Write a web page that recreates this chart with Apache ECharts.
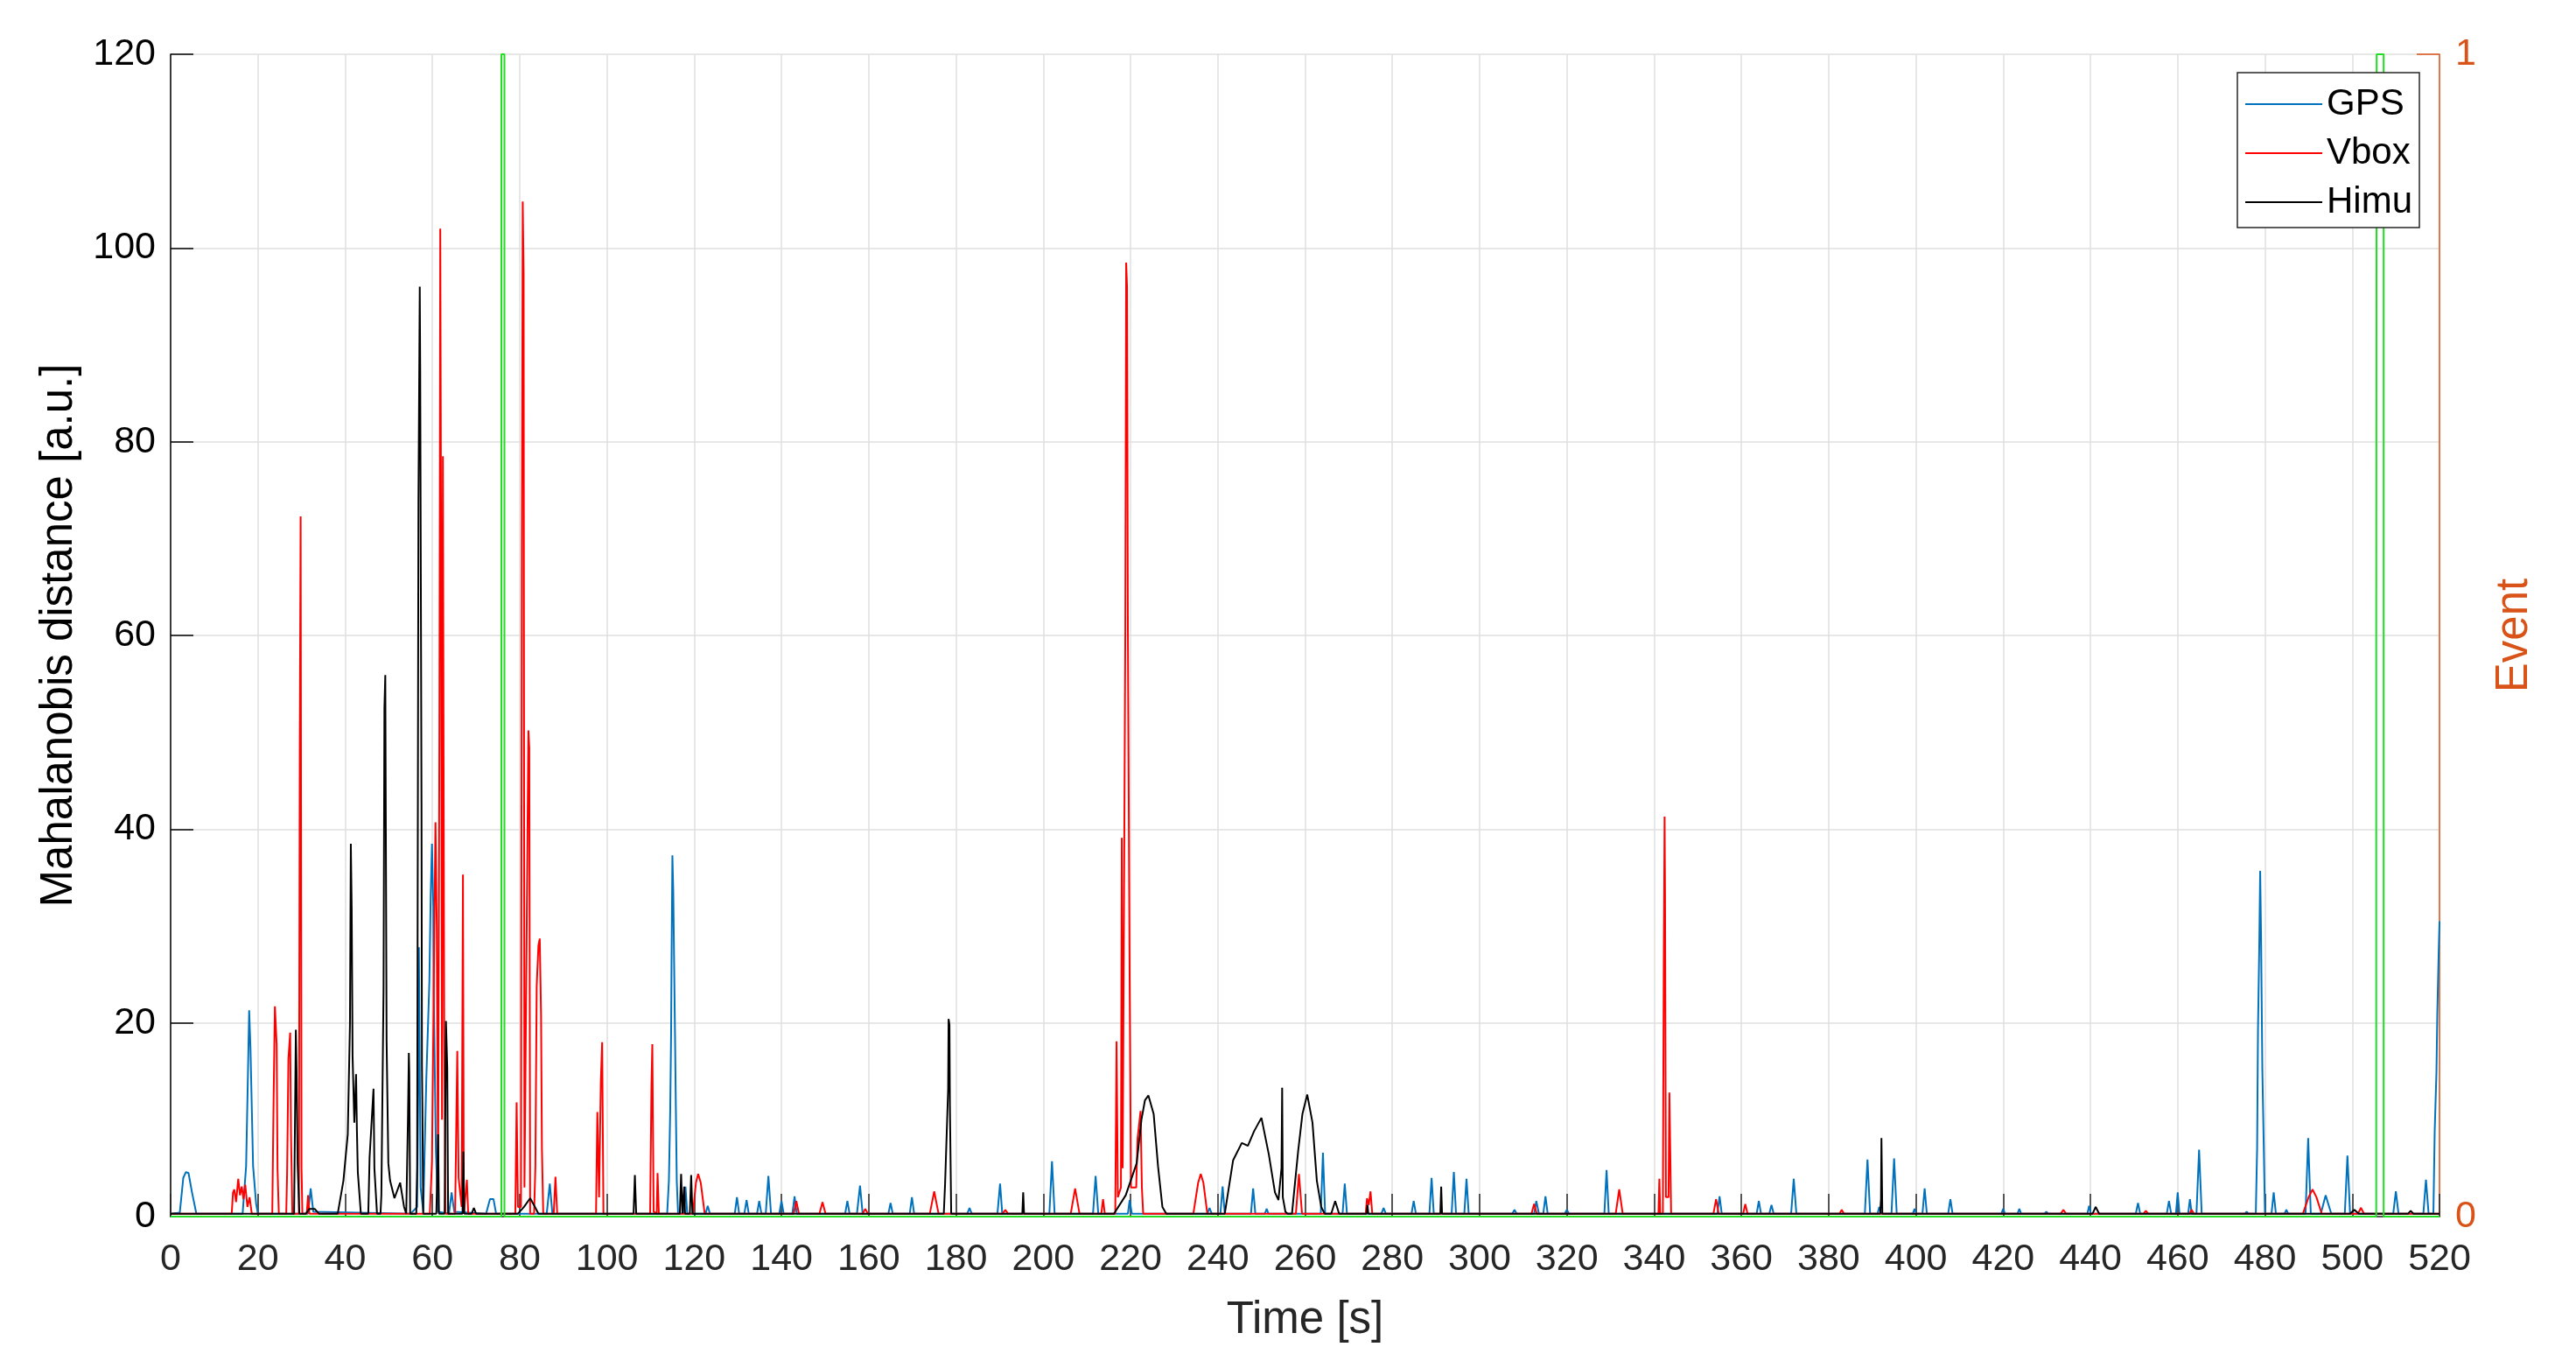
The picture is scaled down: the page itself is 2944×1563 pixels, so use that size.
<!DOCTYPE html>
<html>
<head>
<meta charset="utf-8">
<script src="https://cdn.jsdelivr.net/npm/echarts/dist/echarts.min.js"></script>
<style>
  html, body { margin: 0; padding: 0; background: #fff; }
  #chart { width: 2944px; height: 1563px; }
</style>
</head>
<body>
<div id="chart"></div>
<script>
// [time s, Mahalanobis distance]
const gpsPoints = [
  [0,0.3],[2.1,0.4],[2.9,4],[3.5,4.6],[4.1,4.5],[4.9,2.5],[5.9,0.3],
  [16.5,0.3],[17.3,5.2],[17.7,14.2],[18,21.3],[18.3,17.4],[18.9,5.2],[19.6,1.3],[20,0.3],
  [31.5,0.3],[32.1,2.9],[32.7,0.5],
  [55,0.3],[56.5,1],[56.8,15.7],[56.9,27.8],[57.3,3],[57.9,0.5],[58.6,14.2],[59.3,24.2],[59.6,33],[59.9,38.5],[60.2,32],[60.3,23.2],[60.8,6.7],[61.3,0.5],
  [63.8,0.3],[64.4,2.5],[65,0.5],
  [72.3,0.3],[73.2,1.8],[74,1.8],[74.6,0.3],
  [86.2,0.3],[86.9,3.4],[87.5,0.3],
  [113.8,0.3],[114.2,3.7],[114.5,11],[114.7,18.7],[114.8,26],[115,37.3],[115.2,33.6],[115.4,26],[115.6,18.7],[115.8,11],[116,3.7],[116.3,0.3],
  [117.6,0.3],[118,3.1],[118.4,0.3],
  [122.6,0.3],[123.1,1.1],[123.6,0.3],
  [129.3,0.3],[129.8,2],[130.3,0.3],[131.5,0.3],[132,1.7],[132.5,0.3],[134.4,0.3],[134.9,1.6],[135.4,0.3],
  [136.4,0.3],[137,4.2],[137.6,0.3],[139.5,0.3],[140,1.6],[140.5,0.3],[142.5,0.3],[143,2.1],[143.5,0.3],
  [154.6,0.3],[155.1,1.6],[155.6,0.3],[157.3,0.3],[158,3.2],[158.6,0.3],
  [164.5,0.3],[165,1.4],[165.5,0.3],[169.4,0.3],[169.9,2],[170.4,0.3],
  [182.6,0.3],[183.1,0.9],[183.6,0.3],
  [189.5,0.3],[190.1,3.4],[190.6,0.3],
  [201.4,0.3],[202,5.7],[202.6,0.3],
  [211.4,0.3],[212,4.2],[212.6,0.3],
  [219.4,0.3],[219.8,1.7],[220.3,0.3],
  [237.6,0.3],[238.1,0.9],[238.6,0.3],
  [240.6,0.3],[241.1,3.1],[241.6,0.3],
  [247.6,0.3],[248.1,2.9],[248.6,0.3],
  [250.8,0.3],[251.2,0.8],[251.6,0.3],
  [263.6,0.3],[264.1,6.6],[264.6,0.3],
  [268.6,0.3],[269.1,3.4],[269.6,0.3],
  [277.5,0.3],[278,0.9],[278.5,0.3],
  [284.4,0.3],[284.9,1.6],[285.4,0.3],
  [288.5,0.3],[289,4],[289.5,0.3],
  [293.6,0.3],[294.1,4.6],[294.6,0.3],
  [296.5,0.3],[297,3.9],[297.5,0.3],
  [307.5,0.3],[308,0.7],[308.5,0.3],
  [312.5,0.3],[313,1.6],[313.6,0.3],[314.6,0.3],[315.1,2.1],[315.6,0.3],
  [319.5,0.3],[320,0.7],[320.5,0.3],
  [328.6,0.3],[329.1,4.8],[329.6,0.3],
  [354.5,0.3],[355,2.1],[355.5,0.3],
  [363.5,0.3],[364,1.6],[364.5,0.3],
  [366.4,0.3],[366.9,1.2],[367.4,0.3],
  [371.4,0.3],[372,3.9],[372.6,0.3],
  [388.3,0.3],[388.9,5.9],[389.5,0.3],
  [391.2,0.3],[391.6,1],[392,0.3],
  [394.4,0.3],[395,6],[395.6,0.3],
  [399.3,0.3],[399.7,0.8],[400.1,0.3],
  [401.5,0.3],[402,2.9],[402.5,0.3],
  [407.4,0.3],[407.9,1.8],[408.4,0.3],
  [419.6,0.3],[420,0.8],[420.4,0.3],
  [423.3,0.3],[423.7,0.8],[424.1,0.3],
  [429.5,0.3],[429.9,0.5],[430.3,0.3],
  [439.3,0.3],[439.7,1.1],[440.1,0.3],
  [450.4,0.3],[450.9,1.4],[451.4,0.3],
  [457.5,0.3],[458,1.6],[458.5,0.3],
  [459.6,0.3],[460,2.5],[460.4,0.3],
  [462.4,0.3],[462.8,1.8],[463.2,0.3],
  [464.3,0.3],[464.9,6.9],[465.5,0.3],
  [475.4,0.3],[475.8,0.5],[476.2,0.3],
  [477.9,0.3],[478.2,7],[478.4,19.3],[478.7,28.2],[478.9,35.7],[479.1,29.1],[479.4,15.1],[479.7,7.9],[480,0.3],
  [481.5,0.3],[482,2.5],[482.5,0.3],
  [484.5,0.3],[484.9,0.7],[485.3,0.3],
  [489.3,0.3],[489.9,8.1],[490.5,0.3],
  [492.8,0.3],[493.9,2.2],[495.2,0.3],
  [498.3,0.3],[498.9,6.3],[499.5,0.3],
  [509.4,0.3],[510,2.6],[510.6,0.3],
  [516.3,0.3],[516.9,3.8],[517.5,0.3],
  [518.6,0.3],[518.9,8.8],[519.3,14.9],[519.5,21],[519.8,27],[520,30.5]
];

const vboxPoints = [
  [0,0.3],[14,0.3],[14.3,2.5],[14.6,2.8],[15,1.5],[15.5,3.9],[15.9,2.2],[16.3,3.1],[16.7,1.8],[17.1,3.3],[17.6,1],[18.1,2],[18.6,0.3],
  [23.3,0.3],[23.6,12.1],[23.9,21.7],[24.3,17.8],[24.5,4.9],[24.8,0.3],
  [26.5,0.3],[26.7,4.6],[27,16.3],[27.4,19],[27.6,8.2],[27.9,0.3],
  [29.4,0.3],[29.6,49],[29.8,72.3],[30,5],[30.2,0.3],
  [31.2,0.3],[31.5,2.2],[31.8,0.3],
  [59.4,0.3],[59.9,5.7],[60.7,40.7],[61,30],[61.3,3],[61.6,50],[61.8,102],[62,68],[62.2,10],[62.4,78.5],[62.7,20],[63,0.3],
  [65.2,0.3],[65.7,17.1],[66,4],[66.7,1],[67,35.3],[67.2,0.3],
  [67.6,0.3],[67.9,3.8],[68.2,0.3],
  [79,0.3],[79.3,11.8],[79.6,1],[80.3,1],[80.5,68.8],[80.7,104.8],[80.9,97.3],[81.1,3],[81.5,3],[82,50.2],[82.2,48.4],[82.4,0.3],
  [83.3,0.3],[83.6,5.2],[83.9,23.8],[84.3,28],[84.6,28.7],[84.9,20.8],[85.1,7],[85.4,0.3],
  [87.8,0.3],[88.2,4.1],[88.6,0.3],
  [97.5,0.3],[97.8,10.8],[98.2,2],[98.6,14],[98.9,18],[99.2,0.3],
  [109.9,0.3],[110.2,13.5],[110.4,17.8],[110.7,0.5],[111.4,0.3],[111.6,4.5],[111.9,0.3],
  [119.7,0.3],[120.4,3.5],[120.9,4.4],[121.5,3.5],[122.4,0.3],
  [142.8,0.3],[143.4,1.6],[144,0.3],
  [148.7,0.3],[149.4,1.5],[150.1,0.3],
  [158.6,0.3],[159.2,0.8],[159.8,0.3],
  [174,0.3],[175,2.6],[176,0.3],
  [190.7,0.3],[191.3,0.7],[191.9,0.3],
  [206.3,0.3],[207.3,2.9],[208.3,0.3],
  [213.3,0.3],[213.7,1.8],[214.1,0.3],
  [216.5,0.3],[216.8,18.1],[217.1,2],[217.8,3],[218,39.1],[218.2,5],[218.8,60],[219,98.5],[219.2,96],[219.4,60],[219.8,24.6],[220.1,3],[221.3,3],[221.6,8],[222.3,10.9],[222.6,3],[222.9,0.3],
  [234.4,0.3],[235.5,3.5],[236.1,4.4],[236.7,3.5],[237.6,0.3],
  [257.9,0.3],[258.6,4.4],[259.3,0.3],
  [273.9,0.3],[274.2,1.9],[274.6,1.2],[275,2.6],[275.4,0.3],
  [311.9,0.3],[312.5,1.3],[313.1,0.3],
  [331.2,0.3],[332,2.8],[332.8,0.3],
  [341,0.3],[341.2,3.9],[341.4,0.3],[342,0.3],[342.2,25],[342.4,41.3],[342.5,33.5],[342.7,2],[343.3,2],[343.5,12.8],[343.7,6.6],[343.9,0.3],
  [353.6,0.3],[354.2,1.8],[354.8,0.3],
  [360.4,0.3],[360.9,1.3],[361.4,0.3],
  [382.5,0.3],[383,0.7],[383.5,0.3],
  [433.2,0.3],[433.8,0.7],[434.4,0.3],
  [452.2,0.3],[452.7,0.6],[453.2,0.3],
  [462.7,0.3],[463.2,0.7],[463.7,0.3],
  [488.7,0.3],[490,2],[490.9,2.8],[491.8,2],[493,0.3],
  [501.3,0.3],[502,0.9],[502.7,0.3],
  [520,0.3]
];

const himuPoints = [
  [0,0.3],[28.3,0.3],[28.7,19.3],[28.9,14.2],[29.1,5.5],[29.5,0.3],
  [31,0.3],[31.8,0.8],[33,0.8],[34,0.3],
  [38.3,0.3],[39.6,3.7],[40.6,8.5],[41.1,19.9],[41.3,38.5],[41.5,31.7],[41.7,16.6],[42.1,9.7],[42.5,14.7],[42.7,8.8],[42.9,4.6],[43.6,0.3],
  [45.3,0.3],[45.6,6.1],[45.9,6],[46.5,13.2],[46.7,5],[47.3,0.3],
  [48.1,0.3],[48.3,2.2],[48.8,23.5],[49,52.5],[49.2,55.9],[49.5,18.1],[49.9,5.5],[50.3,3.7],[51.3,1.9],[52.6,3.5],[53.5,1],[54,0.3],
  [54.4,10.3],[54.6,16.9],[54.7,14.8],[54.9,0.3],
  [56.3,0.3],[56.5,5.2],[56.8,73.8],[57.1,96],[57.2,87.7],[57.5,42.8],[57.6,15.7],[57.7,11.2],[57.9,0.3],
  [60.9,0.3],[61.3,8.5],[61.5,0.3],[62.8,0.3],[63.1,20.2],[63.4,15.4],[63.6,0.3],
  [66.9,0.3],[67.1,6.7],[67.3,0.3],
  [69,0.3],[69.5,0.9],[70,0.3],
  [79.6,0.3],[81,1],[82.4,1.9],[83.5,1],[84.3,0.3],
  [106.1,0.3],[106.4,4.3],[106.7,0.3],
  [116.7,0.3],[117,4.4],[117.3,0.3],[117.5,0.3],[117.7,3.1],[117.9,0.3],[119,0.3],[119.3,4.3],[119.6,0.3],
  [177.2,0.3],[177.5,3.4],[178.2,13.2],[178.3,20.4],[178.5,19.8],[178.6,11.5],[178.9,0.3],
  [195.2,0.3],[195.4,2.5],[195.6,0.3],
  [216.2,0.3],[218.9,2.2],[221.4,5.5],[222.5,10],[223.3,12],[224.1,12.5],[225.3,10.6],[226.3,5.2],[227.3,1],[228.2,0.3],
  [241.6,0.3],[243.5,5.8],[245.5,7.6],[246.9,7.3],[248.3,8.8],[250,10.2],[251.7,6.4],[253.1,2.5],[253.9,1.7],[254.6,5],[254.75,13.3],[254.9,2],[255.5,0.5],[256,0.3],
  [257,0.3],[258.4,6.7],[259.4,10.6],[260.5,12.6],[261.7,9.7],[262.7,3.7],[263.7,1],[264.5,0.3],
  [266,0.3],[266.9,1.6],[267.8,0.3],
  [274.1,0.3],[274.3,1.2],[274.5,0.3],
  [291,0.3],[291.2,3.1],[291.4,0.3],
  [391.8,0.3],[392,1.8],[392.1,8.1],[392.3,0.3],
  [440.5,0.3],[441.2,1],[442,0.3],
  [499.5,0.3],[500.5,0.7],[501.5,0.3],
  [512.8,0.3],[513.4,0.6],[514,0.3],
  [520,0.3]
];

// event flag on the right axis (0/1)
const eventPoints = [
  [0,0],[75.8,0],[75.8,1],[76.5,1],[76.5,0],
  [505.5,0],[505.5,0.49],[505.6,0.49],[505.6,1],[507.2,1],[507.2,0],[520,0]
];

const legendNames = ['GPS', 'Vbox', 'Himu'];
const fontName = 'Liberation Sans';

const chart = echarts.init(document.getElementById('chart'));

function lineSeries(name, points, color, axis) {
  return {
    name: name,
    type: 'line',
    yAxisIndex: axis,
    data: points,
    symbol: 'none',
    showSymbol: false,
    sampling: null,
    lineStyle: { color: color, width: 2 },
    itemStyle: { color: color },
    emphasis: { disabled: true }
  };
}

chart.setOption({
  animation: false,
  backgroundColor: '#ffffff',
  textStyle: { fontFamily: fontName },
  grid: { left: 195, right: 156, top: 62, bottom: 173, containLabel: false },
  legend: {
    data: legendNames,
    orient: 'vertical',
    left: 2557,
    top: 83,
    padding: [15, 8, 8, 9],
    icon: 'rect',
    itemWidth: 88,
    itemHeight: 2,
    itemGap: 14,
    backgroundColor: '#ffffff',
    borderColor: '#262626',
    borderWidth: 1.5,
    borderRadius: 0,
    selectedMode: false,
    textStyle: { fontSize: 42, color: '#000000', fontFamily: fontName }
  },
  xAxis: {
    type: 'value',
    min: 0,
    max: 520,
    interval: 20,
    name: 'Time [s]',
    nameLocation: 'middle',
    nameGap: 93,
    nameTextStyle: { fontSize: 51, color: '#262626', fontFamily: fontName },
    axisLine: { show: true, lineStyle: { color: '#262626', width: 1.5 } },
    axisTick: { show: true, inside: true, length: 26, lineStyle: { color: '#262626', width: 1.5 } },
    axisLabel: { fontSize: 43, color: '#262626', margin: 28, fontFamily: fontName },
    splitLine: { show: true, lineStyle: { color: '#dfdfdf', width: 1.5 } }
  },
  yAxis: [
    {
      type: 'value',
      min: 0,
      max: 120,
      interval: 20,
      name: 'Mahalanobis distance [a.u.]',
      nameLocation: 'middle',
      nameGap: 102,
      nameRotate: 90,
      nameTextStyle: { fontSize: 51, color: '#000000', fontFamily: fontName },
      axisLine: { show: true, lineStyle: { color: '#000000', width: 1.5 } },
      axisTick: { show: true, inside: true, length: 26, lineStyle: { color: '#000000', width: 1.5 } },
      axisLabel: { fontSize: 43, color: '#000000', margin: 17, fontFamily: fontName },
      splitLine: { show: true, lineStyle: { color: '#dfdfdf', width: 1.5 } }
    },
    {
      type: 'value',
      position: 'right',
      min: 0,
      max: 1,
      interval: 1,
      name: 'Event',
      nameLocation: 'middle',
      nameGap: 60,
      nameRotate: 90,
      nameTextStyle: { fontSize: 51, color: '#D95319', fontFamily: fontName },
      axisLine: { show: true, lineStyle: { color: '#D95319', width: 1.5 } },
      axisTick: { show: true, inside: true, length: 26, lineStyle: { color: '#D95319', width: 1.5 } },
      axisLabel: { fontSize: 43, color: '#D95319', margin: 18, fontFamily: fontName },
      splitLine: { show: false }
    }
  ],
  series: [
    lineSeries('GPS', gpsPoints, '#0072BD', 0),
    lineSeries('Vbox', vboxPoints, '#FF0000', 0),
    lineSeries('Himu', himuPoints, '#000000', 0),
    lineSeries('Event', eventPoints, '#22DD22', 1)
  ]
});
</script>
</body>
</html>
